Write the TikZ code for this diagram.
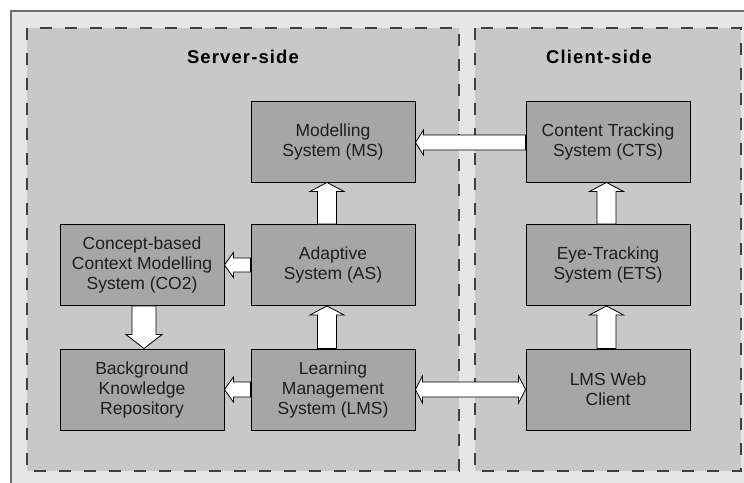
\documentclass[tikz,border=0pt]{standalone}
\usepackage{fontspec}
\setmainfont{Liberation Sans}
\newfontfamily\titlefont[LetterSpace=6]{Liberation Sans}
\usetikzlibrary{calc}
\definecolor{outerbg}{HTML}{E6E6E6}
\definecolor{regionbg}{HTML}{C8C8C8}
\definecolor{boxbg}{HTML}{A6A6A6}
\definecolor{dashcol}{HTML}{404040}
\definecolor{outerline}{HTML}{6E6E6E}
\definecolor{txt}{HTML}{1E1E1E}
\tikzset{
  sysbox/.style={draw=black, line width=0.9pt, fill=boxbg, minimum width=164pt, minimum height=81pt,
    align=center, inner sep=2pt, text=txt, font=\fontsize{17.5}{20}\selectfont},
  region/.style={draw=dashcol, line width=1.2pt, fill=regionbg, dash pattern=on 12pt off 13pt},
  regiontitle/.style={font=\titlefont\bfseries\fontsize{18.5}{22}\selectfont, text=black},
  blockstyle/.style={draw=black, line width=0.8pt, fill=white, line join=miter}
}
% #1 start, #2 end, #3 shaft half width, #4 head half width, #5 head length
\newcommand\blockarr[5]{%
  \path ($(#2)!#5!(#1)$) coordinate (bah);
  \draw[blockstyle] ($(#1)!#3!90:(#2)$) -- ($(bah)!#3!90:(#2)$) -- ($(bah)!#4!90:(#2)$) -- (#2)
    -- ($(bah)!#4!-90:(#2)$) -- ($(bah)!#3!-90:(#2)$) -- ($(#1)!#3!-90:(#2)$) -- cycle;
}
\newcommand\blockarrboth[5]{%
  \path ($(#2)!#5!(#1)$) coordinate (bah);
  \path ($(#1)!#5!(#2)$) coordinate (bat);
  \draw[blockstyle] (#1) -- ($(bat)!#4!-90:(#1)$) -- ($(bat)!#3!-90:(#1)$)
    -- ($(bah)!#3!90:(#2)$) -- ($(bah)!#4!90:(#2)$) -- (#2)
    -- ($(bah)!#4!-90:(#2)$) -- ($(bah)!#3!-90:(#2)$)
    -- ($(bat)!#3!90:(#1)$) -- ($(bat)!#4!90:(#1)$) -- cycle;
}
\begin{document}
\begin{tikzpicture}[x=1pt, y=-1pt]
\useasboundingbox (0,0) rectangle (744,482);
\clip (0,0) rectangle (744,482);
\fill[white] (0,0) rectangle (744,482);
\draw[outerline, line width=1.2pt, fill=outerbg] (11,11) rectangle (760,500);
\draw[region] (27,28) rectangle (459,471);
\draw[region] (475,28) rectangle (741,471);

\node[regiontitle] (srv) at (243,57) {Server-side};
\node[regiontitle] (cli) at (599,57) {Client-side};

\node[sysbox] (MS)  at (333,141.5) {Modelling\\System (MS)};
\node[sysbox] (CTS) at (608,141.5) {Content Tracking\\System (CTS)};
\node[sysbox] (CO2) at (142,265) {Concept-based\\Context Modelling\\System (CO2)};
\node[sysbox] (AS)  at (333,265) {Adaptive\\System (AS)};
\node[sysbox] (ETS) at (608,265) {Eye-Tracking\\System (ETS)};
\node[sysbox] (BKR) at (142,389.5) {Background\\Knowledge\\Repository};
\node[sysbox] (LMS) at (333,389.5) {Learning\\Management\\System (LMS)};
\node[sysbox] (LWC) at (608,389.5) {LMS Web\\Client};

\coordinate (asn) at ($(AS.north)+(-6,0)$);
\coordinate (mss) at ($(MS.south)+(-6,0)$);
\coordinate (lmsn) at ($(LMS.north)+(-6,0)$);
\coordinate (ass) at ($(AS.south)+(-6,0)$);
\coordinate (lwcn) at ($(LWC.north)+(-1.5,0)$);
\coordinate (etss) at ($(ETS.south)+(-1.5,0)$);
\coordinate (etsn) at ($(ETS.north)+(-1.5,0)$);
\coordinate (ctss) at ($(CTS.south)+(-1.5,0)$);
\coordinate (co2s) at ($(CO2.south)+(2,0)$);
\coordinate (bkrn) at ($(BKR.north)+(2,0)$);
\coordinate (ctsw) at ($(CTS.west)+(0,1)$);
\coordinate (mse) at ($(MS.east)+(0,1)$);

\blockarr{asn}{mss}{9.5pt}{17pt}{9pt}
\blockarr{lmsn}{ass}{9.5pt}{17pt}{9pt}
\blockarr{lwcn}{etss}{9.5pt}{17pt}{9pt}
\blockarr{etsn}{ctss}{9.5pt}{17pt}{9pt}
\blockarr{co2s}{bkrn}{12pt}{18pt}{14pt}
\blockarr{ctsw}{mse}{7.5pt}{12.5pt}{8pt}
\blockarr{AS.west}{CO2.east}{7pt}{12.5pt}{9pt}
\blockarr{LMS.west}{BKR.east}{7.5pt}{12.5pt}{9pt}
\blockarrboth{LMS.east}{LWC.west}{7.5pt}{13.5pt}{7pt}
\end{tikzpicture}
\end{document}
